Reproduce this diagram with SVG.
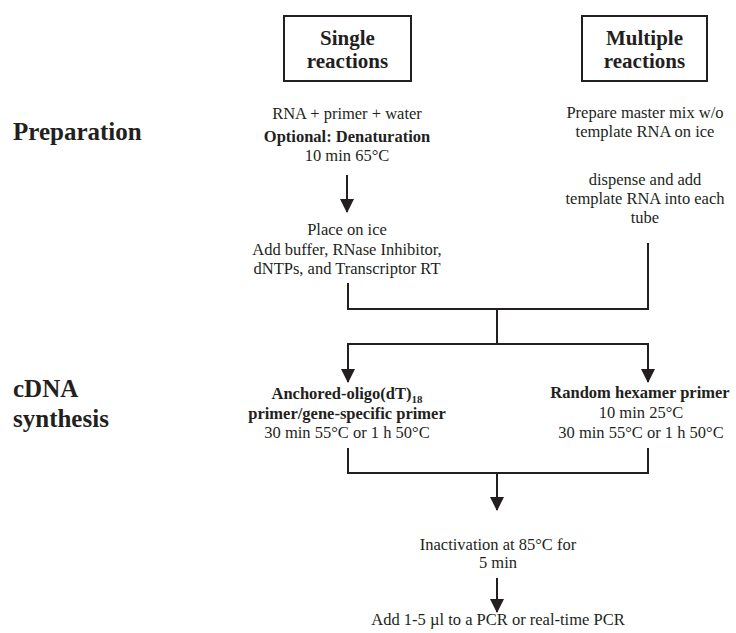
<svg xmlns="http://www.w3.org/2000/svg" width="736" height="633" viewBox="0 0 736 633">
<style>
text{font-family:"Liberation Serif","Times New Roman",serif;fill:#231f20}
.t{font-size:16.5px;text-anchor:middle}
.b{font-weight:bold}
.h{font-size:25px;font-weight:bold}
.hd{font-size:21px;font-weight:bold;text-anchor:middle}
.ln{fill:none;stroke:#231f20;stroke-width:2}
.box{fill:#fff;stroke:#231f20;stroke-width:2}
</style>
<defs>
<marker id="ah" markerWidth="14" markerHeight="14" viewBox="0 0 14 14" refX="13" refY="7" orient="auto" markerUnits="userSpaceOnUse">
<path d="M0,0 L14,7 L0,14 Z" fill="#231f20"/>
</marker>
</defs>
<rect width="736" height="633" fill="#fff"/>
<g id="single-header"><rect class="box" x="284" y="16" width="127" height="65"/><text class="hd" x="347.5" y="45">Single</text><text class="hd" x="347.5" y="68">reactions</text></g>
<g id="multiple-header"><rect class="box" x="582" y="16" width="125" height="65"/><text class="hd" x="644.5" y="45">Multiple</text><text class="hd" x="644.5" y="68">reactions</text></g>
<g id="label-preparation"><text class="h" x="13" y="140">Preparation</text></g>
<g id="label-cdna"><text class="h" x="13" y="397">cDNA</text><text class="h" x="13" y="427">synthesis</text></g>
<g id="single-prep"><text class="t" x="347" y="119">RNA + primer + water</text><text class="t b" x="347" y="142">Optional: Denaturation</text><text class="t" x="347" y="161">10 min 65°C</text></g>
<g id="single-ice"><text class="t" x="347" y="235">Place on ice</text><text class="t" x="347" y="255">Add buffer, RNase Inhibitor,</text><text class="t" x="347" y="274">dNTPs, and Transcriptor RT</text></g>
<g id="multiple-prep"><text class="t" x="645" y="118">Prepare master mix w/o</text><text class="t" x="645" y="137">template RNA on ice</text><text class="t" x="645" y="185">dispense and add</text><text class="t" x="645" y="204">template RNA into each</text><text class="t" x="645" y="223">tube</text></g>
<g id="anchored"><text class="t b" x="347" y="399">Anchored-oligo(dT)<tspan font-size="11" dy="4">18</tspan></text><text class="t b" x="347" y="419">primer/gene-specific primer</text><text class="t" x="347" y="438">30 min 55°C or 1 h 50°C</text></g>
<g id="random"><text class="t b" x="640" y="398">Random hexamer primer</text><text class="t" x="641" y="418">10 min 25°C</text><text class="t" x="641" y="438">30 min 55°C or 1 h 50°C</text></g>
<g id="inactivation"><text class="t" x="498" y="550">Inactivation at 85°C for</text><text class="t" x="498" y="568">5 min</text></g>
<g id="add-pcr"><text class="t" x="498" y="625">Add 1-5 µl to a PCR or real-time PCR</text></g>
<g id="connectors">
<path class="ln" d="M347,175 V212" marker-end="url(#ah)"/>
<path class="ln" d="M348,283 V309 H648 V243"/>
<path class="ln" d="M497,309 V344"/>
<path class="ln" d="M348,382 V344 H648 V382"/>
<path class="ln" d="M348,344 V382" marker-end="url(#ah)"/>
<path class="ln" d="M648,344 V382" marker-end="url(#ah)"/>
<path class="ln" d="M348,448 V473 H648 V448"/>
<path class="ln" d="M497,473 V510" marker-end="url(#ah)"/>
<path class="ln" d="M497,578 V612" marker-end="url(#ah)"/>
</g>
</svg>
